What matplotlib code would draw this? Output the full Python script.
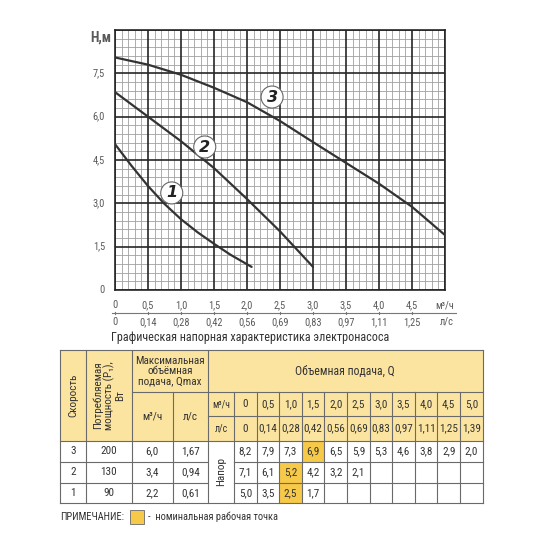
import matplotlib.pyplot as plt
from matplotlib.patches import Rectangle
from matplotlib.transforms import blended_transform_factory
from matplotlib import font_manager

# Кривые (Q, м3/ч -> H, м)
curve1_q = [0, 0.25, 0.5, 0.75, 1.0, 1.25, 1.5, 1.75, 2.07]
curve1_h = [5.05, 4.3, 3.6, 2.98, 2.45, 2.0, 1.6, 1.22, 0.8]
curve2_q = [0, 0.5, 1.0, 1.5, 2.0, 2.5, 3.0]
curve2_h = [6.85, 6.0, 5.15, 4.22, 3.15, 2.03, 0.8]
curve3_q = [0, 0.5, 1.0, 1.5, 2.0, 2.5, 3.0, 3.5, 4.0, 4.5, 5.0]
curve3_h = [8.05, 7.8, 7.45, 7.0, 6.5, 5.85, 5.12, 4.4, 3.68, 2.88, 1.9]

# Подписи осей
y_ticks = [0, 1.5, 3.0, 4.5, 6.0, 7.5]
x_ticks = [0, 0.5, 1.0, 1.5, 2.0, 2.5, 3.0, 3.5, 4.0, 4.5]
x_ls = ['0', '0,14', '0,28', '0,42', '0,56', '0,69', '0,83', '0,97', '1,11', '1,25']

# Таблица
q_m3h = ['0', '0,5', '1,0', '1,5', '2,0', '2,5', '3,0', '3,5', '4,0', '4,5', '5,0']
q_ls = ['0', '0,14', '0,28', '0,42', '0,56', '0,69', '0,83', '0,97', '1,11', '1,25', '1,39']
speeds = ['3', '2', '1']
power = ['200', '130', '90']
qmax_m3h = ['6,0', '3,4', '2,2']
qmax_ls = ['1,67', '0,94', '0,61']
heads = [
    ['8,2', '7,9', '7,3', '6,9', '6,5', '5,9', '5,3', '4,6', '3,8', '2,9', '2,0'],
    ['7,1', '6,1', '5,2', '4,2', '3,2', '2,1'],
    ['5,0', '3,5', '2,5', '1,7'],
]
nominal = [3, 2, 2]

# узкий шрифт, если найдётся
names = {f.name for f in font_manager.fontManager.ttflist}
FONT = [n for n in ['Roboto Condensed', 'Liberation Sans Narrow', 'DejaVu Sans Condensed',
                    'Open Sans Condensed', 'Noto Sans Condensed'] if n in names] + ['Liberation Sans', 'DejaVu Sans']
plt.rcParams['font.family'] = FONT

TXT = '#333333'
GRAYTXT = '#5a5a5a'
YELLOW = '#fbe4a0'
HILITE = '#f7c948'
LINE = '#6a6a6a'

fig = plt.figure(figsize=(5.5, 5.5), dpi=100)
W = H = 550.0

# --- график ---
ax = fig.add_axes([115 / W, 1 - 290 / H, 330 / W, 260 / H])
ax.set_xlim(0, 5)
ax.set_ylim(0, 9)
for i in range(51):
    major = i % 5 == 0
    ax.axvline(i * 0.1, color='#262626' if major else '#a0a0a0', lw=1.2 if major else 0.6,
               zorder=2 if major else 1)
for i in range(31):
    major = i % 5 == 0
    ax.axhline(i * 0.3, color='#262626' if major else '#a0a0a0', lw=1.2 if major else 0.6,
               zorder=2 if major else 1)
for s in ax.spines.values():
    s.set_color('#262626')
    s.set_linewidth(1.2)
ax.set_xticks([])
ax.set_yticks([])

for q, h in [(curve1_q, curve1_h), (curve2_q, curve2_h), (curve3_q, curve3_h)]:
    ax.plot(q, h, color='#333333', lw=1.6, zorder=3, solid_capstyle='round', solid_joinstyle='round')

for lbl, (qx, hy) in zip(['1', '2', '3'], [(0.86, 3.36), (1.36, 4.95), (2.38, 6.68)]):
    ax.text(qx, hy, lbl, fontsize=11.5, fontweight='bold', style='italic', color='#222222',
            ha='center', va='center', zorder=5, family=['DejaVu Sans'],
            bbox=dict(boxstyle='circle,pad=0.22', fc='white', ec='#666666', lw=0.8))

tr = blended_transform_factory(ax.transData, ax.transAxes)
for y in y_ticks:
    ax.text(-0.15, y, ('%.1f' % y).replace('.', ',') if y else '0', ha='right', va='center',
            fontsize=7.5, color=GRAYTXT)
ax.text(-0.01, 0.97, 'H,м', transform=ax.transAxes, ha='right', va='center', fontsize=10,
        color=GRAYTXT, fontweight='bold')

for q, l2 in zip(x_ticks, x_ls):
    ax.text(q, -0.058, ('%.1f' % q).replace('.', ',') if q else '0', transform=tr,
            ha='center', va='center', fontsize=7.5, color=GRAYTXT)
    ax.text(q, -0.122, l2, transform=tr, ha='center', va='center', fontsize=7.5, color=GRAYTXT)
    ax.plot([q, q], [-0.093, -0.083], transform=tr, color='#777777', lw=0.8, clip_on=False)
ax.plot([-0.05, 5.17], [-0.088, -0.088], transform=tr, color='#777777', lw=0.8, clip_on=False)
ax.text(5.0, -0.058, 'м³/ч', transform=tr, ha='center', va='center', fontsize=7.5, color=GRAYTXT)
ax.text(5.03, -0.122, 'л/с', transform=tr, ha='center', va='center', fontsize=7.5, color=GRAYTXT)

# --- таблица ---
ov = fig.add_axes([0, 0, 1, 1])
ov.set_xlim(0, W)
ov.set_ylim(H, 0)
ov.axis('off')

ov.text(250, 337, 'Графическая напорная характеристика электронасоса', ha='center', va='center',
        fontsize=8.7, color=TXT)

cols = [60, 86, 131.5, 172.5, 208, 234] + [234 + 22.6 * (i + 1) for i in range(11)]
hdr = [350, 392, 416, 441]
rows = [441, 462, 482.5, 503]

ov.add_patch(Rectangle((cols[0], hdr[0]), cols[-1] - cols[0], hdr[-1] - hdr[0], fc=YELLOW, ec='none'))
ov.add_patch(Rectangle((cols[0], rows[0]), cols[-1] - cols[0], rows[-1] - rows[0], fc='white', ec='none'))
for r, idx in enumerate(nominal):
    c = 5 + idx
    ov.add_patch(Rectangle((cols[c], rows[r]), cols[c + 1] - cols[c], rows[r + 1] - rows[r],
                           fc=HILITE, ec='none'))


def seg(x0, y0, x1, y1):
    ov.plot([x0, x1], [y0, y1], color=LINE, lw=0.8)


# рамка и линии
seg(cols[0], hdr[0], cols[-1], hdr[0])
seg(cols[0], rows[-1], cols[-1], rows[-1])
seg(cols[0], hdr[0], cols[0], rows[-1])
seg(cols[-1], hdr[0], cols[-1], rows[-1])
seg(cols[1], hdr[0], cols[1], rows[-1])
seg(cols[2], hdr[0], cols[2], rows[-1])
seg(cols[3], hdr[1], cols[3], rows[-1])
seg(cols[4], hdr[0], cols[4], rows[-1])
seg(cols[5], hdr[1], cols[5], rows[-1])
for c in cols[6:-1]:
    seg(c, hdr[1], c, rows[-1])
seg(cols[2], hdr[1], cols[-1], hdr[1])
seg(cols[4], hdr[2], cols[-1], hdr[2])
seg(cols[0], rows[0], cols[-1], rows[0])
for r in (1, 2):
    seg(cols[0], rows[r], cols[4], rows[r])
    seg(cols[5], rows[r], cols[-1], rows[r])


def mid(a, b):
    return (a + b) / 2


fs = 8
ov.text(mid(cols[0], cols[1]), mid(hdr[0], hdr[-1]), 'Скорость', rotation=90, ha='center', va='center',
        fontsize=fs, color=TXT)
ov.text(mid(cols[1], cols[2]), mid(hdr[0], hdr[-1]), 'Потребляемая\nмощность (P₁),\nВт', rotation=90,
        ha='center', va='center', fontsize=fs, color=TXT, linespacing=1.05, multialignment='center')
ov.text(mid(cols[2], cols[4]), mid(hdr[0], hdr[1]), 'Максимальная\nобъёмная\nподача, Qmax', ha='center',
        va='center', fontsize=fs, color=TXT, linespacing=1.05, multialignment='center')
ov.text(mid(cols[2], cols[3]), mid(hdr[1], hdr[-1]), 'м³/ч', ha='center', va='center', fontsize=fs, color=TXT)
ov.text(mid(cols[3], cols[4]), mid(hdr[1], hdr[-1]), 'л/с', ha='center', va='center', fontsize=fs, color=TXT)
ov.text(mid(cols[4], cols[-1]), mid(hdr[0], hdr[1]), 'Объемная подача, Q', ha='center', va='center',
        fontsize=8.5, color=TXT)
ov.text(mid(cols[4], cols[5]), mid(hdr[1], hdr[2]), 'м³/ч', ha='center', va='center', fontsize=7, color=TXT)
ov.text(mid(cols[4], cols[5]), mid(hdr[2], hdr[3]), 'л/с', ha='center', va='center', fontsize=7, color=TXT)
for i in range(11):
    cx = mid(cols[5 + i], cols[6 + i])
    ov.text(cx, mid(hdr[1], hdr[2]), q_m3h[i], ha='center', va='center', fontsize=fs, color=TXT)
    ov.text(cx, mid(hdr[2], hdr[3]), q_ls[i], ha='center', va='center', fontsize=fs, color=TXT)

ov.text(mid(cols[4], cols[5]), mid(rows[0], rows[-1]), 'Напор', rotation=90, ha='center', va='center',
        fontsize=fs, color=TXT)
for r in range(3):
    cy = mid(rows[r], rows[r + 1])
    for c, val in enumerate([speeds[r], power[r], qmax_m3h[r], qmax_ls[r]]):
        ov.text(mid(cols[c], cols[c + 1]), cy, val, ha='center', va='center', fontsize=fs, color=TXT)
    for i, val in enumerate(heads[r]):
        ov.text(mid(cols[5 + i], cols[6 + i]), cy, val, ha='center', va='center', fontsize=fs, color=TXT)

# примечание
ov.text(60, 517, 'ПРИМЕЧАНИЕ:', ha='left', va='center', fontsize=7.5, color=TXT)
ov.add_patch(Rectangle((130, 510), 14, 14, fc=HILITE, ec=LINE, lw=0.6))
ov.text(148, 517, '-  номинальная рабочая точка', ha='left', va='center', fontsize=7.5, color=TXT)

fig.savefig('out.png', dpi=100)
